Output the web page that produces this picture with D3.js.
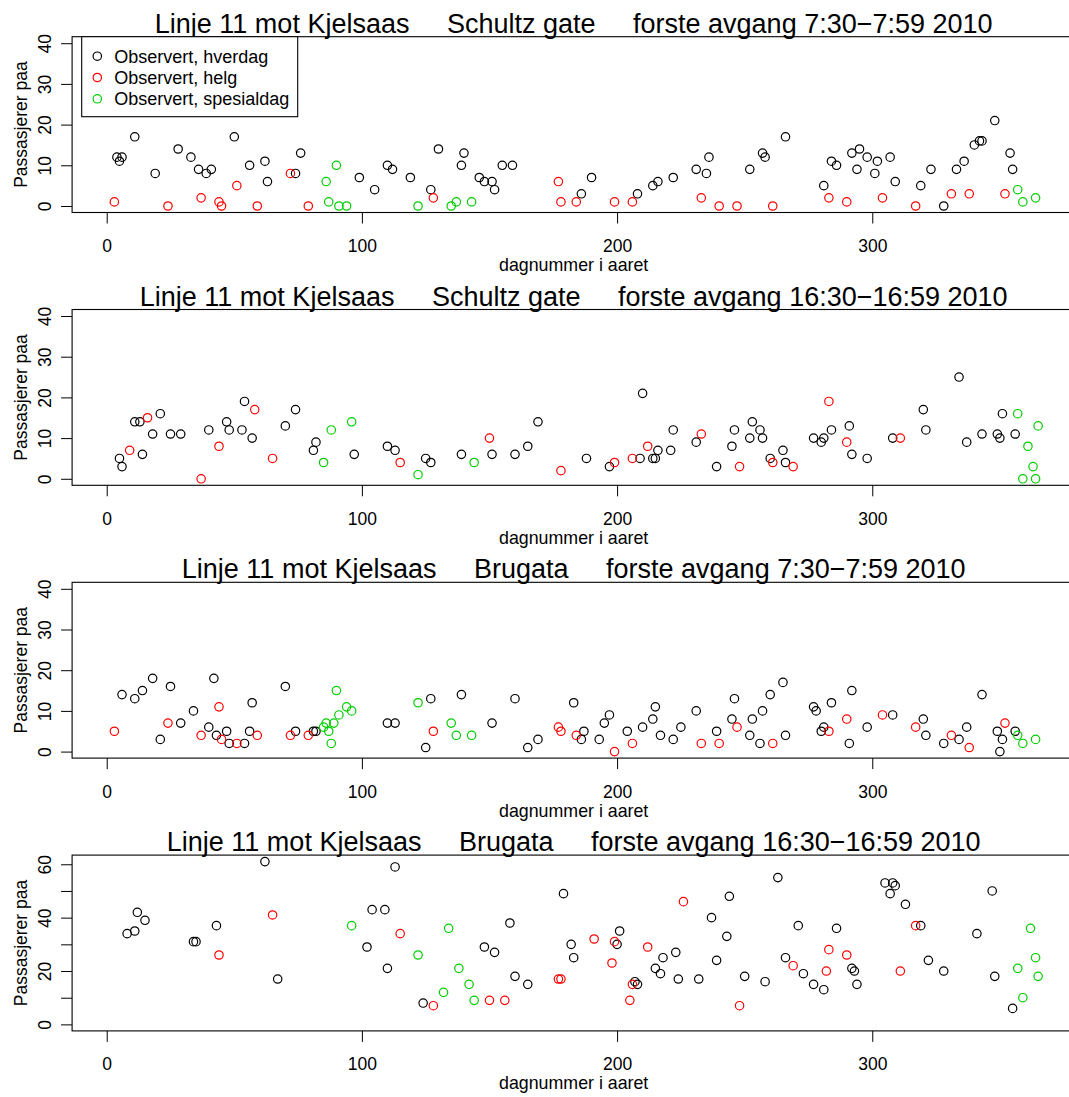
<!DOCTYPE html>
<html>
<head>
<meta charset="utf-8">
<script src="https://cdn.jsdelivr.net/npm/d3@7"></script>
<style>
  html, body { margin: 0; padding: 0; background: #fff; }
  svg { display: block; }
  text { font-family: "Liberation Sans", Arial, Helvetica, sans-serif; fill: #000; }
</style>
</head>
<body>
<svg id="chart" width="1069" height="1097"></svg>
<script>
// ---- Passenger counts per day of year: [day, passengers] ----
// Schultz gate, 7:30-7:59
const schultzMorningHverdag = [[4,12],[5,11],[6,12],[11,17],[19,8],[28,14],[33,12],[36,9],[39,8],[41,9],[50,17],[56,10],[62,11],[63,6],[74,8],[76,13],[99,7],[105,4],[110,10],[112,9],[119,7],[127,4],[130,14],[139,10],[140,13],[146,7],[148,6],[151,6],[152,4],[155,10],[159,10],[186,3],[190,7],[208,3],[214,5],[216,6],[222,7],[231,9],[235,8],[236,12],[252,9],[257,13],[258,12],[266,17],[281,5],[284,11],[286,10],[292,13],[294,9],[295,14],[298,12],[301,8],[302,11],[307,12],[309,6],[319,5],[323,9],[328,0],[333,9],[336,11],[340,15],[342,16],[343,16],[348,21],[354,13],[355,9]];
const schultzMorningHelg = [[3,1],[24,0],[37,2],[44,1],[45,0],[51,5],[59,0],[72,8],[79,0],[128,2],[177,6],[178,1],[184,1],[199,1],[206,1],[233,2],[240,0],[247,0],[261,0],[283,2],[290,1],[304,2],[317,0],[331,3],[338,3],[352,3]];
const schultzMorningSpesial = [[86,6],[87,1],[90,10],[91,0],[94,0],[122,0],[135,0],[137,1],[143,1],[357,4],[359,1],[364,2]];

// Schultz gate, 16:30-16:59
const schultzAfternoonHverdag = [[5,5],[6,3],[11,14],[13,14],[14,6],[18,11],[21,16],[25,11],[29,11],[40,12],[47,14],[48,12],[53,12],[54,19],[57,10],[70,13],[74,17],[81,7],[82,9],[97,6],[110,8],[113,7],[125,5],[127,4],[139,6],[151,6],[160,6],[165,8],[169,14],[188,5],[197,3],[209,5],[210,21],[214,5],[215,5],[216,7],[221,7],[222,12],[231,9],[239,3],[245,8],[246,12],[252,10],[253,14],[256,12],[257,10],[260,5],[265,7],[266,4],[277,10],[280,9],[281,10],[284,12],[291,13],[292,6],[298,5],[308,10],[320,17],[321,12],[334,25],[337,9],[343,11],[349,11],[350,10],[351,16],[356,11]];
const schultzAfternoonHelg = [[9,7],[16,15],[37,0],[44,8],[58,17],[65,5],[115,4],[150,10],[178,2],[199,4],[206,5],[212,8],[233,11],[248,3],[261,4],[269,3],[283,19],[290,9],[311,10]];
const schultzAfternoonSpesial = [[85,4],[88,12],[96,14],[122,1],[144,4],[357,16],[359,0],[361,8],[363,3],[364,0],[365,13]];

// Brugata, 7:30-7:59
const brugataMorningHverdag = [[6,14],[11,13],[14,15],[18,18],[21,3],[25,16],[29,7],[34,10],[40,6],[42,18],[43,4],[47,5],[48,2],[54,2],[56,5],[57,12],[70,16],[74,5],[81,5],[82,5],[110,7],[113,7],[125,1],[127,13],[139,14],[151,7],[160,13],[165,1],[169,3],[183,12],[186,3],[187,5],[193,3],[195,7],[197,9],[204,5],[210,6],[214,8],[215,11],[217,4],[222,3],[225,6],[231,10],[239,5],[245,8],[246,13],[252,4],[253,8],[256,2],[257,10],[260,14],[265,17],[266,4],[277,11],[278,10],[280,5],[281,6],[284,12],[291,2],[292,15],[298,6],[308,9],[320,8],[321,4],[328,2],[334,3],[337,6],[343,14],[349,5],[350,0],[351,3],[356,5]];
const brugataMorningHelg = [[3,5],[24,7],[37,4],[44,11],[45,3],[51,2],[59,4],[72,4],[79,4],[128,5],[177,6],[178,5],[184,4],[199,0],[206,2],[233,2],[240,2],[247,6],[261,2],[283,5],[290,8],[304,9],[317,6],[331,4],[338,1],[352,7]];
const brugataMorningSpesial = [[85,6],[86,7],[87,5],[88,2],[89,7],[90,15],[91,9],[94,11],[96,10],[122,12],[135,7],[137,4],[143,4],[357,4],[359,2],[364,3]];

// Brugata, 16:30-16:59
const brugataAfternoonHverdag = [[8,34],[11,35],[12,42],[15,39],[34,31],[35,31],[43,37],[62,61],[67,17],[102,29],[104,43],[109,43],[110,21],[113,59],[124,8],[148,29],[152,27],[158,38],[160,18],[165,15],[179,49],[182,30],[183,25],[200,30],[201,35],[207,16],[208,15],[215,21],[217,19],[218,25],[223,27],[224,17],[232,17],[237,40],[239,24],[243,33],[244,48],[250,18],[258,16],[263,55],[266,25],[271,37],[273,19],[277,15],[281,13],[286,36],[292,21],[293,20],[294,15],[305,53],[307,49],[308,53],[309,52],[313,45],[319,37],[322,24],[328,20],[341,34],[347,50],[348,18],[355,6]];
const brugataAfternoonHelg = [[44,26],[65,41],[115,34],[128,7],[150,9],[156,9],[177,17],[178,17],[191,32],[198,23],[199,31],[205,9],[206,15],[212,29],[226,46],[248,7],[269,22],[282,20],[283,28],[290,26],[311,20],[317,37]];
const brugataAfternoonSpesial = [[96,37],[122,26],[132,12],[134,36],[138,21],[142,15],[144,9],[357,21],[359,10],[362,36],[364,25],[365,18]];

// ---- Labels and ticks ----
const panelTitles = [
  "Linje 11 mot Kjelsaas     Schultz gate     forste avgang 7:30\u22127:59 2010",
  "Linje 11 mot Kjelsaas     Schultz gate     forste avgang 16:30\u221216:59 2010",
  "Linje 11 mot Kjelsaas     Brugata     forste avgang 7:30\u22127:59 2010",
  "Linje 11 mot Kjelsaas     Brugata     forste avgang 16:30\u221216:59 2010"
];
const legendLabels = ["Observert, hverdag", "Observert, helg", "Observert, spesialdag"];
const seriesColours = ["#000000", "#ff0000", "#00cd00"];
const xTicks = [0, 100, 200, 300];
const yTicksSmall = [0, 10, 20, 30, 40];
const yTicksLarge = [0, 10, 20, 30, 40, 50, 60];
const yLabelledLarge = [0, 20, 40, 60];
const yUpper = [40, 40, 40, 61];
const dayRange = [1, 365];
const xLabel = "dagnummer i aaret";
const yLabel = "Passasjerer paa";

const panels = [
  [schultzMorningHverdag, schultzMorningHelg, schultzMorningSpesial],
  [schultzAfternoonHverdag, schultzAfternoonHelg, schultzAfternoonSpesial],
  [brugataMorningHverdag, brugataMorningHelg, brugataMorningSpesial],
  [brugataAfternoonHverdag, brugataAfternoonHelg, brugataAfternoonSpesial]
];

// ---- Layout ----
const svg = d3.select("#chart");
svg.append("rect").attr("width", 1069).attr("height", 1097).attr("fill", "#fff");

const firstTop = 36.7, panelPitch = 272.8, panelHeight = 175.8;
const plotLeft = 72.1, plotRight = 1075.3;
const tickLen = 11;
const pointR = 4.2;

// R-style 4% padding on both axes
const pad = (lo, hi) => { const d = (hi - lo) * 0.04; return [lo - d, hi + d]; };

const x = d3.scaleLinear().domain(pad(dayRange[0], dayRange[1])).range([plotLeft, plotRight]);
const midX = (plotLeft + plotRight) / 2;

panels.forEach((series, i) => {
  const top = firstTop + i * panelPitch;
  const bottom = top + panelHeight;
  const y = d3.scaleLinear().domain(pad(0, yUpper[i])).range([bottom, top]);
  const g = svg.append("g");

  // x axis
  const xa = g.append("g").attr("transform", `translate(0,${bottom})`)
    .call(d3.axisBottom(x).tickValues(xTicks).tickSize(tickLen).tickFormat(d3.format("d")));
  xa.select(".domain").remove();
  xa.selectAll(".tick line").attr("stroke", "#000").attr("stroke-width", 1);
  xa.selectAll(".tick text").attr("y", 39.5).attr("dy", null)
    .style("font-size", "17.5px").attr("fill", "#000");

  // y axis
  const yt = yUpper[i] > 40 ? yTicksLarge : yTicksSmall;
  const ya = g.append("g").attr("transform", `translate(${plotLeft},0)`)
    .call(d3.axisLeft(y).tickValues(yt).tickSize(tickLen)
      .tickFormat(d => (yUpper[i] > 40 && !yLabelledLarge.includes(d)) ? "" : d3.format("d")(d)));
  ya.select(".domain").remove();
  ya.selectAll(".tick line").attr("stroke", "#000").attr("stroke-width", 1);
  ya.selectAll(".tick text")
    .attr("x", null).attr("dy", null)
    .attr("transform", `translate(${51 - plotLeft},0) rotate(-90)`)
    .attr("text-anchor", "middle")
    .style("font-size", "17.5px").attr("fill", "#000");

  // points
  series.forEach((pts, s) => {
    g.append("g").selectAll("circle").data(pts).join("circle")
      .attr("cx", d => x(d[0])).attr("cy", d => y(d[1])).attr("r", pointR)
      .attr("fill", "none").attr("stroke", seriesColours[s]).attr("stroke-width", 1.2);
  });

  // frame
  g.append("rect").attr("x", plotLeft).attr("y", top)
    .attr("width", plotRight - plotLeft).attr("height", panelHeight)
    .attr("fill", "none").attr("stroke", "#000").attr("stroke-width", 1.1);

  // titles and axis labels
  g.append("text").attr("x", midX).attr("y", top - 4).attr("text-anchor", "middle")
    .attr("xml:space", "preserve").style("white-space", "pre")
    .style("font-size", "27px").text(panelTitles[i]);
  g.append("text").attr("x", midX).attr("y", bottom + 58.5).attr("text-anchor", "middle")
    .style("font-size", "17.8px").text(xLabel);
  g.append("text").attr("transform", `translate(27,${(top + bottom) / 2}) rotate(-90)`)
    .attr("text-anchor", "middle").style("font-size", "17.5px").text(yLabel);

  // legend in the first panel
  if (i === 0) {
    const lg = g.append("g");
    lg.append("rect").attr("x", 81.7).attr("y", top).attr("width", 216).attr("height", 80)
      .attr("fill", "#fff").attr("stroke", "#000").attr("stroke-width", 1.1);
    legendLabels.forEach((lab, k) => {
      const cy = top + 19.5 + k * 21.3;
      lg.append("circle").attr("cx", 97.3).attr("cy", cy).attr("r", pointR)
        .attr("fill", "none").attr("stroke", seriesColours[k]).attr("stroke-width", 1.2);
      lg.append("text").attr("x", 114.3).attr("y", cy).attr("dy", "0.35em")
        .style("font-size", "18px").text(lab);
    });
  }
});
</script>
</body>
</html>
